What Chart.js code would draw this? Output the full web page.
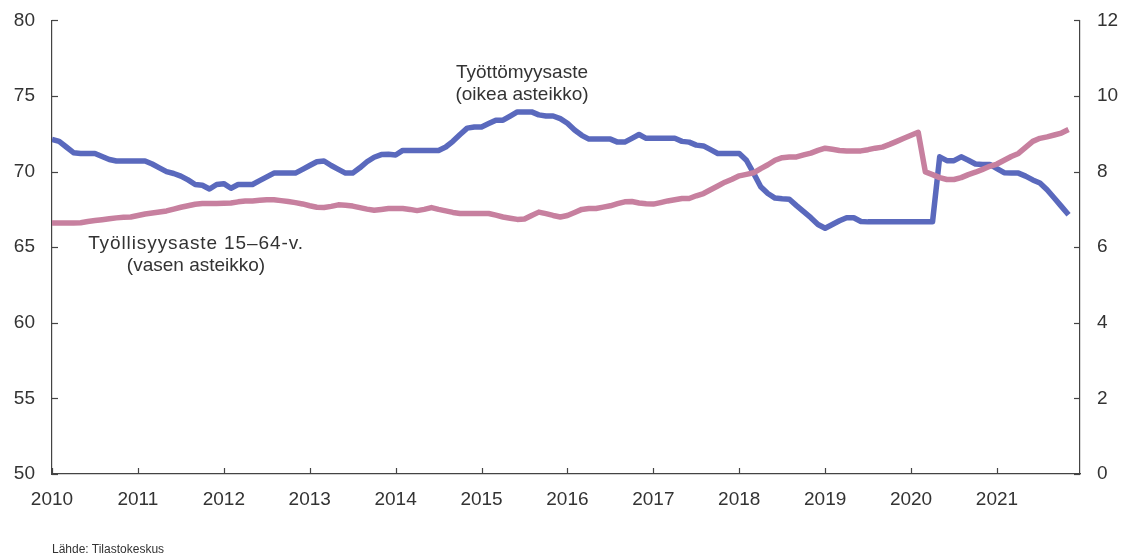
<!DOCTYPE html>
<html>
<head>
<meta charset="utf-8">
<script src="https://cdn.jsdelivr.net/npm/chart.js@4.4.1/dist/chart.umd.min.js"></script>
<style>
  html,body{margin:0;padding:0;background:#fff;overflow:hidden;}
  #wrap{position:relative;width:1129px;height:557px;overflow:hidden;}
  canvas{position:absolute;left:0;top:-8px;}
  .lbl{position:absolute;font-family:"Liberation Sans",Arial,sans-serif;font-size:19px;color:#333;text-align:center;line-height:22px;white-space:nowrap;}
  .src{position:absolute;left:52px;top:542px;font-family:"Liberation Sans Narrow","Liberation Sans",Arial,sans-serif;font-size:12px;color:#333;}
</style>
</head>
<body>
<div id="wrap">
<canvas id="c" width="1129" height="565"></canvas>
<div class="lbl" style="left:420px;top:61px;width:204px;">Työttömyysaste<br>(oikea asteikko)</div>
<div class="lbl" style="left:80px;top:232px;width:232px;"><span style="letter-spacing:0.9px">Työllisyysaste 15–64-v.</span><br>(vasen asteikko)</div>
<div class="src">Lähde: Tilastokeskus</div>
</div>
<script>
// Months since January 2010
const yearLabels = ['2010','2011','2012','2013','2014','2015','2016','2017','2018','2019','2020','2021'];
const leftTicks = [50,55,60,65,70,75,80];
const rightTicks = [0,2,4,6,8,10,12];

// Työttömyysaste, % (right axis), monthly from 2010-01
const unemployment = [
 8.85,8.8,8.65,8.5,8.48,8.48,8.48,8.4,8.32,8.28,8.28,8.28,
 8.28,8.28,8.2,8.1,8.0,7.95,7.88,7.78,7.66,7.64,7.54,7.66,
 7.68,7.56,7.66,7.66,7.66,7.76,7.86,7.96,7.96,7.96,7.96,8.06,
 8.16,8.26,8.28,8.16,8.06,7.96,7.96,8.1,8.26,8.38,8.45,8.46,
 8.44,8.56,8.56,8.56,8.56,8.56,8.56,8.65,8.8,8.98,9.15,9.18,
 9.18,9.27,9.36,9.36,9.47,9.58,9.58,9.58,9.5,9.47,9.47,9.4,
 9.28,9.1,8.96,8.86,8.86,8.86,8.86,8.78,8.78,8.88,8.98,8.88,
 8.88,8.88,8.88,8.88,8.8,8.78,8.7,8.68,8.58,8.48,8.48,8.48,
 8.48,8.3,7.96,7.6,7.42,7.3,7.28,7.27,7.1,6.94,6.78,6.6,
 6.5,6.6,6.7,6.78,6.78,6.68,6.67,6.67,6.67,6.67,6.67,6.67,
 6.67,6.67,6.67,6.67,8.39,8.29,8.29,8.39,8.3,8.2,8.19,8.19,
 8.08,7.97,7.96,7.96,7.88,7.78,7.7,7.52,7.3,7.08,6.86
];

// Työllisyysaste 15–64-v., % (left axis), monthly from 2010-01
const employment = [
 66.6,66.6,66.6,66.6,66.62,66.7,66.76,66.82,66.88,66.94,66.98,67.0,
 67.1,67.2,67.26,67.33,67.4,67.52,67.64,67.74,67.84,67.89,67.89,67.89,
 67.9,67.92,68.0,68.06,68.06,68.1,68.14,68.14,68.08,68.02,67.95,67.86,
 67.74,67.64,67.63,67.7,67.8,67.78,67.72,67.62,67.52,67.45,67.5,67.56,
 67.56,67.56,67.5,67.42,67.5,67.62,67.5,67.4,67.3,67.23,67.23,67.23,
 67.23,67.23,67.12,67.0,66.92,66.84,66.86,67.1,67.32,67.22,67.1,67.0,
 67.1,67.3,67.5,67.56,67.56,67.65,67.74,67.88,68.0,68.02,67.92,67.87,
 67.85,67.95,68.06,68.14,68.22,68.22,68.4,68.55,68.8,69.05,69.3,69.5,
 69.72,69.82,69.92,70.2,70.45,70.75,70.92,70.97,70.97,71.1,71.22,71.4,
 71.55,71.48,71.4,71.37,71.37,71.37,71.45,71.55,71.62,71.8,72.0,72.2,
 72.4,72.6,69.98,69.8,69.6,69.48,69.48,69.6,69.8,69.96,70.15,70.35,
 70.5,70.75,71.0,71.2,71.6,72.0,72.2,72.3,72.42,72.55,72.78
];

const toXY = arr => arr.map((v,i)=>({x:i,y:v}));
const textColor = '#333333';
const axisColor = '#444444';
const tickFont = {family:'"Liberation Sans", Arial, sans-serif', size:19};

// Inside tick marks drawn through the scales
const innerTicks = {
  id:'innerTicks',
  afterDraw(chart){
    const ctx = chart.ctx, a = chart.chartArea;
    ctx.save();
    ctx.strokeStyle = axisColor; ctx.lineWidth = 1.2;
    const xs = chart.scales.x;
    for(let i=0;i<yearLabels.length;i++){
      const px = Math.round(xs.getPixelForValue(i*12))+0.5;
      ctx.beginPath(); ctx.moveTo(px,a.bottom); ctx.lineTo(px,a.bottom-6); ctx.stroke();
    }
    const yl = chart.scales.yL;
    leftTicks.forEach(v=>{
      const py = Math.round(yl.getPixelForValue(v))+0.5;
      ctx.beginPath(); ctx.moveTo(a.left,py); ctx.lineTo(a.left+6,py); ctx.stroke();
    });
    const yr = chart.scales.yR;
    rightTicks.forEach(v=>{
      const py = Math.round(yr.getPixelForValue(v))+0.5;
      ctx.beginPath(); ctx.moveTo(a.right,py); ctx.lineTo(a.right-6,py); ctx.stroke();
    });
    ctx.restore();
  }
};

new Chart(document.getElementById('c'), {
  type:'line',
  data:{
    datasets:[
      {label:'Työllisyysaste 15–64-v.', data:toXY(employment), yAxisID:'yL',
       borderColor:'#c7809f', borderWidth:5.5, pointRadius:0, tension:0, borderJoinStyle:'round'},
      {label:'Työttömyysaste', data:toXY(unemployment), yAxisID:'yR',
       borderColor:'#5a69bd', borderWidth:5.5, pointRadius:0, tension:0, borderJoinStyle:'round'}
    ]
  },
  options:{
    responsive:false, animation:false,
    layout:{padding:{top:12,left:0,right:0,bottom:0}},
    plugins:{legend:{display:false}, tooltip:{enabled:false}},
    scales:{
      x:{type:'linear', min:0, max:143.6,
         afterFit(s){ s.height = 83; },
         afterBuildTicks(s){ s.ticks = yearLabels.map((l,i)=>({value:i*12})); },
         grid:{display:false, drawTicks:false},
         border:{display:true, color:axisColor, width:1.2},
         ticks:{autoSkip:false, maxRotation:0, padding:14, color:textColor, font:tickFont,
                callback:(v)=>yearLabels[Math.round(v/12)] ?? ''}},
      yL:{type:'linear', position:'left', min:50, max:80,
         afterFit(s){ s.width = 52; },
         afterBuildTicks(s){ s.ticks = leftTicks.map(v=>({value:v})); },
         grid:{display:false, drawTicks:false},
         border:{display:true, color:axisColor, width:1.2},
         ticks:{padding:17, color:textColor, font:tickFont}},
      yR:{type:'linear', position:'right', min:0, max:12,
         afterFit(s){ s.width = 49; },
         afterBuildTicks(s){ s.ticks = rightTicks.map(v=>({value:v})); },
         grid:{display:false, drawTicks:false},
         border:{display:true, color:axisColor, width:1.2},
         ticks:{padding:17, color:textColor, font:tickFont}}
    }
  },
  plugins:[innerTicks]
});
</script>
</body>
</html>
